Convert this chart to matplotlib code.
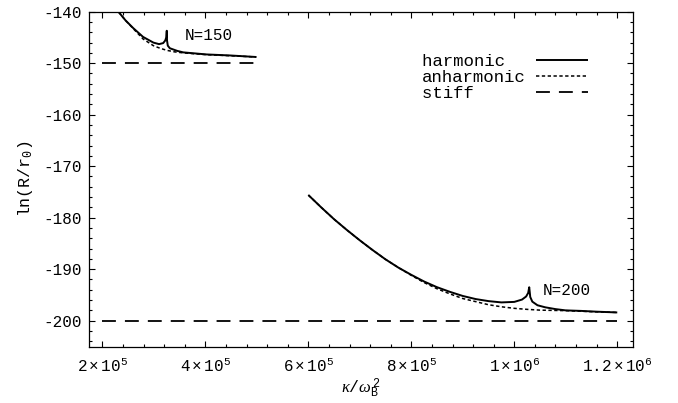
import matplotlib
matplotlib.use('Agg')
import matplotlib.pyplot as plt
from matplotlib.ticker import FixedLocator, FixedFormatter, MultipleLocator

plt.rcParams['font.family'] = ['Liberation Mono', 'DejaVu Sans Mono']
plt.rcParams['mathtext.fontset'] = 'custom'
plt.rcParams['mathtext.rm'] = 'Liberation Mono'
plt.rcParams['mathtext.it'] = 'Liberation Serif:italic'
plt.rcParams['lines.scale_dashes'] = False
plt.rcParams['axes.unicode_minus'] = False

# N=150 curves
harm150_x = [2.31e5, 2.45e5, 2.60e5, 2.79e5, 2.99e5, 3.10e5, 3.18e5, 3.22e5,
             3.24e5, 3.25e5, 3.255e5, 3.27e5, 3.31e5, 3.45e5, 3.57e5, 4.02e5,
             4.48e5, 4.99e5]
harm150_y = [-140.0, -141.7, -143.2, -144.9, -146.0, -146.3, -146.1, -145.6,
             -145.0, -143.7, -145.6, -146.6, -147.1, -147.6, -147.9, -148.3,
             -148.5, -148.8]
anh150_x = [2.31e5, 2.45e5, 2.60e5, 2.79e5, 2.99e5, 3.12e5, 3.25e5, 3.40e5,
            3.57e5, 4.02e5, 4.48e5, 4.99e5]
anh150_y = [-140.0, -141.7, -143.3, -145.3, -146.6, -147.1, -147.5, -147.8,
            -148.0, -148.35, -148.55, -148.8]
stiff150_x = [2.0e5, 5.0e5]
stiff150_y = [-150, -150]

# N=200 curves
harm200_x = [6.0e5, 6.25e5, 6.5e5, 6.75e5, 7.0e5, 7.25e5, 7.5e5, 7.75e5,
             8.0e5, 8.25e5, 8.5e5, 8.75e5, 9.0e5, 9.25e5, 9.5e5, 9.75e5,
             10.0e5, 10.15e5, 10.23e5, 10.27e5, 10.29e5, 10.31e5, 10.35e5,
             10.45e5, 10.6e5, 10.8e5, 11.0e5, 11.3e5, 11.6e5, 12.0e5]
harm200_y = [-175.6, -178.0, -180.3, -182.4, -184.4, -186.3, -188.1, -189.7,
             -191.1, -192.4, -193.5, -194.4, -195.2, -195.8, -196.2, -196.45,
             -196.35, -195.9, -195.3, -194.6, -193.5, -195.4, -196.3,
             -197.0, -197.4, -197.75, -198.0, -198.1, -198.25, -198.4]
anh200_x = [6.0e5, 6.25e5, 6.5e5, 6.75e5, 7.0e5, 7.25e5, 7.5e5, 7.75e5,
            8.0e5, 8.25e5, 8.5e5, 8.75e5, 9.0e5, 9.25e5, 9.5e5, 9.75e5,
            10.0e5, 10.25e5, 10.5e5, 10.75e5, 11.0e5, 11.5e5, 12.0e5]
anh200_y = [-175.6, -178.0, -180.3, -182.4, -184.4, -186.3, -188.1, -189.7,
            -191.2, -192.6, -193.8, -194.8, -195.7, -196.3, -196.9, -197.3,
            -197.6, -197.8, -197.95, -198.0, -198.05, -198.25, -198.4]
stiff200_x = [2.0e5, 12.0e5]
stiff200_y = [-200, -200]

xticks = [2e5, 4e5, 6e5, 8e5, 10e5, 12e5]
xtick_labels = [r'$2\times10^5$', r'$4\times10^5$', r'$6\times10^5$',
                r'$8\times10^5$', r'$1\times10^6$', r'$1.2\times10^6$']
yticks = [-200, -190, -180, -170, -160, -150, -140]

fig = plt.figure(figsize=(6.78, 4.03), dpi=100)
ax = fig.add_axes([0.1313, 0.1397, 0.8019, 0.8313])

solid = dict(color='black', lw=1.4, solid_capstyle='butt', zorder=3)
dotted = dict(color='black', lw=1.1, dashes=(2.4, 1.8), zorder=2)
dashed = dict(color='black', lw=1.3, dashes=(10, 6.5), zorder=2)

ax.plot(harm150_x, harm150_y, label='harmonic', **solid)
ax.plot(anh150_x, anh150_y, label='anharmonic', **dotted)
ax.plot(stiff150_x, stiff150_y, label='stiff', **dashed)
ax.plot(harm200_x, harm200_y, **solid)
ax.plot(anh200_x, anh200_y, **dotted)
ax.plot(stiff200_x, stiff200_y, **dashed)

ax.text(3.6e5, -144.7, 'N=150', fontsize=11.5, va='center', ha='left')
ax.text(10.55e5, -194.1, 'N=200', fontsize=11.5, va='center', ha='left')

ax.set_xlim(1.74e5, 12.3e5)
ax.set_ylim(-205.05, -140)
ax.xaxis.set_major_locator(FixedLocator(xticks))
ax.xaxis.set_major_formatter(FixedFormatter(xtick_labels))
ax.xaxis.set_minor_locator(MultipleLocator(4e4))
ax.set_yticks(yticks)
ax.yaxis.set_minor_locator(MultipleLocator(2))

ax.tick_params(which='both', direction='in', top=True, right=True, width=0.8)
ax.tick_params(which='major', length=4)
ax.tick_params(which='minor', length=2.2)
ax.tick_params(axis='x', which='major', labelsize=11.5, pad=8)
ax.tick_params(axis='y', which='major', labelsize=11.5, pad=5)
for s in ax.spines.values():
    s.set_linewidth(0.9)

ax.set_xlabel(r'$\kappa/\omega_{\mathrm{B}}^{\,2}$', fontsize=12, labelpad=1)
ax.set_ylabel(r'ln(R/r$_0$)', fontsize=12, labelpad=6)

leg = ax.legend(labels=['harmonic  ', 'anharmonic', 'stiff     '],
                loc='upper right', bbox_to_anchor=(0.918, 0.875),
                frameon=False, markerfirst=False, fontsize=12.5,
                handlelength=3.0, handletextpad=0.6, labelspacing=0.05,
                borderpad=0, borderaxespad=0)

fig.savefig('out.png', dpi=100)
